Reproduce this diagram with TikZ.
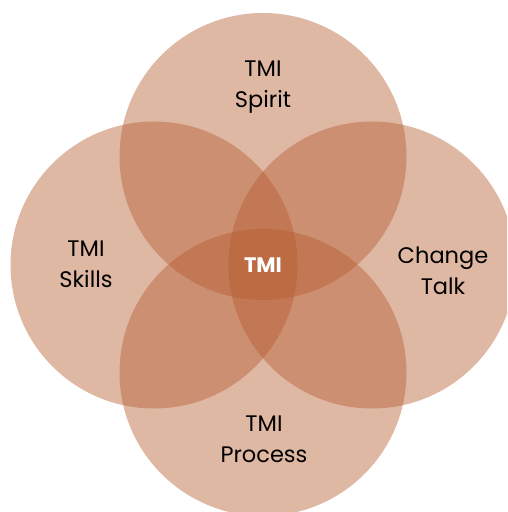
\documentclass[tikz,border=0pt]{standalone}
\usepackage{fontspec}
\setmainfont{Poppins}
\definecolor{petal}{RGB}{180,90,45}
\tikzset{
  petal/.style={fill=petal, fill opacity=0.43, draw=none},
  lbl/.style={align=center, text=black, font=\fontsize{22.5}{31}\selectfont},
  core/.style={text=white, font=\fontsize{21}{24}\selectfont\bfseries}
}
\begin{document}
\begin{tikzpicture}[x=1pt,y=-1pt]
\useasboundingbox (0,0) rectangle (507,512);
\clip (0,0) rectangle (507,512);
\fill[petal] (263,156.5) circle (143.5);
\fill[petal] (154,265) circle (143.5);
\fill[petal] (372,265) circle (143.5);
\fill[petal] (263,372.5) circle (143.5);
\node[lbl] (spirit) at (263,87) {TMI\\Spirit};
\node[lbl] (skills) at (86,264) {TMI\\Skills};
\node[lbl] (change) at (443,271) {Change\\Talk};
\node[lbl] (process) at (264,439) {TMI\\Process};
\node[core] (tmi) at (263,265) {TMI};
\end{tikzpicture}
\end{document}
